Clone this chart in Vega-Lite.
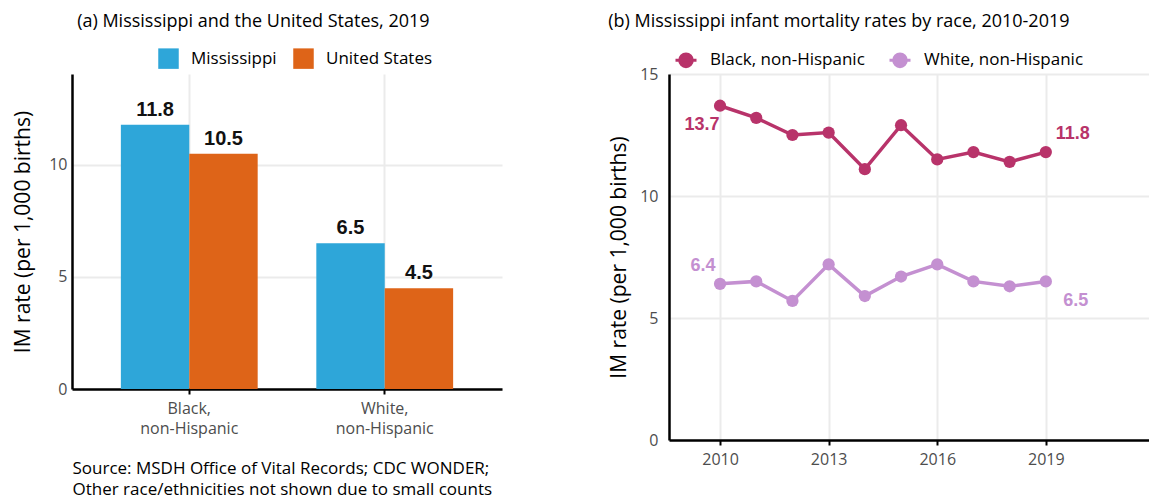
{
  "$schema": "https://vega.github.io/schema/vega-lite/v6.json",
  "padding": {"left": 12, "top": 13, "right": 0, "bottom": 10},
  "background": "white",
  "datasets": {
    "bars": [
      {"race": "Black, non-Hispanic", "area": "Mississippi", "rate": 11.8},
      {"race": "Black, non-Hispanic", "area": "United States", "rate": 10.5},
      {"race": "White, non-Hispanic", "area": "Mississippi", "rate": 6.5},
      {"race": "White, non-Hispanic", "area": "United States", "rate": 4.5}
    ],
    "trend": [
      {"year": 2010, "race": "Black, non-Hispanic", "rate": 13.7},
      {"year": 2011, "race": "Black, non-Hispanic", "rate": 13.2},
      {"year": 2012, "race": "Black, non-Hispanic", "rate": 12.5},
      {"year": 2013, "race": "Black, non-Hispanic", "rate": 12.6},
      {"year": 2014, "race": "Black, non-Hispanic", "rate": 11.1},
      {"year": 2015, "race": "Black, non-Hispanic", "rate": 12.9},
      {"year": 2016, "race": "Black, non-Hispanic", "rate": 11.5},
      {"year": 2017, "race": "Black, non-Hispanic", "rate": 11.8},
      {"year": 2018, "race": "Black, non-Hispanic", "rate": 11.4},
      {"year": 2019, "race": "Black, non-Hispanic", "rate": 11.8},
      {"year": 2010, "race": "White, non-Hispanic", "rate": 6.4},
      {"year": 2011, "race": "White, non-Hispanic", "rate": 6.5},
      {"year": 2012, "race": "White, non-Hispanic", "rate": 5.7},
      {"year": 2013, "race": "White, non-Hispanic", "rate": 7.2},
      {"year": 2014, "race": "White, non-Hispanic", "rate": 5.9},
      {"year": 2015, "race": "White, non-Hispanic", "rate": 6.7},
      {"year": 2016, "race": "White, non-Hispanic", "rate": 7.2},
      {"year": 2017, "race": "White, non-Hispanic", "rate": 6.5},
      {"year": 2018, "race": "White, non-Hispanic", "rate": 6.3},
      {"year": 2019, "race": "White, non-Hispanic", "rate": 6.5}
    ]
  },
  "config": {
    "view": {"stroke": null},
    "font": "Open Sans",
    "axis": {
      "labelFont": "Open Sans",
      "labelFontSize": 16,
      "labelColor": "#4d4d4d",
      "titleFont": "Open Sans",
      "titleFontSize": 21,
      "titleFontWeight": "normal",
      "titleColor": "black",
      "gridColor": "#ebebeb",
      "gridWidth": 2,
      "domainColor": "black",
      "domainWidth": 2.5,
      "tickColor": "black",
      "tickWidth": 2,
      "tickSize": 5
    },
    "legend": {
      "labelFont": "Open Sans",
      "labelFontSize": 17,
      "labelColor": "black",
      "padding": 0
    },
    "title": {
      "font": "Open Sans",
      "fontSize": 18,
      "fontWeight": "normal",
      "color": "black"
    }
  },
  "resolve": {"scale": {"color": "independent"}, "legend": {"color": "independent"}},
  "spacing": 106,
  "hconcat": [
    {
      "width": 430,
      "height": 315,
      "data": {"name": "bars"},
      "title": {"text": "(a) Mississippi and the United States, 2019", "frame": "bounds", "anchor": "middle", "offset": 17, "dx": -4},
      "encoding": {
        "x": {
          "field": "race", "type": "nominal",
          "scale": {"paddingInner": 0.3, "paddingOuter": 0.25},
          "axis": {
            "labelAngle": 0,
            "bandPosition": 0.5,
            "grid": true,
            "labelExpr": "split(replace(datum.label, ', ', ',|'), '|')",
            "labelLineHeight": 20,
            "labelPadding": 6,
            "title": ["Source: MSDH Office of Vital Records; CDC WONDER;", "Other race/ethnicities not shown due to small counts"],
            "titleFontSize": 17,
            "titleAnchor": "start",
            "titleAlign": "left",
            "titleLineHeight": 21,
            "titlePadding": 24
          }
        },
        "xOffset": {"field": "area", "type": "nominal", "scale": {"paddingInner": 0, "paddingOuter": 0}},
        "y": {
          "field": "rate", "type": "quantitative",
          "scale": {"domain": [0, 14.06], "nice": false},
          "axis": {"values": [0, 5, 10], "ticks": false, "labelPadding": 5, "title": "IM rate (per 1,000 births)", "titlePadding": 15}
        }
      },
      "layer": [
        {
          "mark": {"type": "bar"},
          "encoding": {
            "color": {
              "field": "area", "type": "nominal",
              "scale": {"domain": ["Mississippi", "United States"], "range": ["#2ea6d9", "#de6418"]},
              "legend": {
                "title": null, "orient": "none", "direction": "horizontal",
                "legendX": 86, "legendY": -26,
                "symbolType": "square", "symbolSize": 420, "symbolStrokeWidth": 0,
                "labelOffset": 12, "columnPadding": 16
              }
            }
          }
        },
        {
          "mark": {"type": "text", "baseline": "bottom", "dy": -5, "font": "Liberation Sans", "fontWeight": "bold", "fontSize": 20, "color": "#111111"},
          "encoding": {"text": {"field": "rate", "type": "quantitative", "format": ".1f"}}
        }
      ]
    },
    {
      "width": 480,
      "height": 366,
      "data": {"name": "trend"},
      "title": {"text": "(b) Mississippi infant mortality rates by race, 2010-2019", "frame": "bounds", "anchor": "middle", "offset": 17, "dx": -40},
      "encoding": {
        "x": {
          "field": "year", "type": "quantitative",
          "scale": {"domain": [2008.59, 2021.85], "nice": false, "zero": false},
          "axis": {"values": [2010, 2013, 2016, 2019], "format": "d", "title": null, "labelPadding": 6}
        },
        "y": {
          "field": "rate", "type": "quantitative",
          "scale": {"domain": [0, 15], "nice": false},
          "axis": {"values": [0, 5, 10, 15], "ticks": false, "labelPadding": 11, "title": "IM rate (per 1,000 births)", "titlePadding": 10}
        },
        "color": {
          "field": "race", "type": "nominal",
          "scale": {"domain": ["Black, non-Hispanic", "White, non-Hispanic"], "range": ["#b8336a", "#c490d1"]},
          "legend": {
            "title": null, "orient": "none", "direction": "horizontal",
            "legendX": 5, "legendY": -26,
            "symbolType": "M-1,0H1M0.6,0A0.6,0.6,0,1,1,-0.6,0A0.6,0.6,0,1,1,0.6,0Z",
            "symbolSize": 441, "symbolStrokeWidth": 3, "symbolOpacity": 1,
            "labelOffset": 12, "columnPadding": 18,
            "encode": {"symbols": {"update": {"stroke": {"scale": "color", "field": "value"}, "fill": {"scale": "color", "field": "value"}, "strokeWidth": {"value": 3}, "opacity": {"value": 1}}}}
          }
        }
      },
      "layer": [
        {"mark": {"type": "line", "strokeWidth": 3.5}},
        {"mark": {"type": "point", "filled": true, "opacity": 1, "size": 150}},
        {
          "transform": [{"filter": "datum.year == 2010 && datum.race == 'Black, non-Hispanic'"}],
          "mark": {"type": "text", "dx": -18, "dy": 19, "font": "Liberation Sans", "fontWeight": "bold", "fontSize": 18},
          "encoding": {"text": {"field": "rate", "type": "quantitative", "format": ".1f"}}
        },
        {
          "transform": [{"filter": "datum.year == 2010 && datum.race == 'White, non-Hispanic'"}],
          "mark": {"type": "text", "dx": -17, "dy": -18, "font": "Liberation Sans", "fontWeight": "bold", "fontSize": 18},
          "encoding": {"text": {"field": "rate", "type": "quantitative", "format": ".1f"}}
        },
        {
          "transform": [{"filter": "datum.year == 2019 && datum.race == 'Black, non-Hispanic'"}],
          "mark": {"type": "text", "dx": 27, "dy": -18, "font": "Liberation Sans", "fontWeight": "bold", "fontSize": 18},
          "encoding": {"text": {"field": "rate", "type": "quantitative", "format": ".1f"}}
        },
        {
          "transform": [{"filter": "datum.year == 2019 && datum.race == 'White, non-Hispanic'"}],
          "mark": {"type": "text", "dx": 30, "dy": 20, "font": "Liberation Sans", "fontWeight": "bold", "fontSize": 18},
          "encoding": {"text": {"field": "rate", "type": "quantitative", "format": ".1f"}}
        }
      ]
    }
  ]
}
